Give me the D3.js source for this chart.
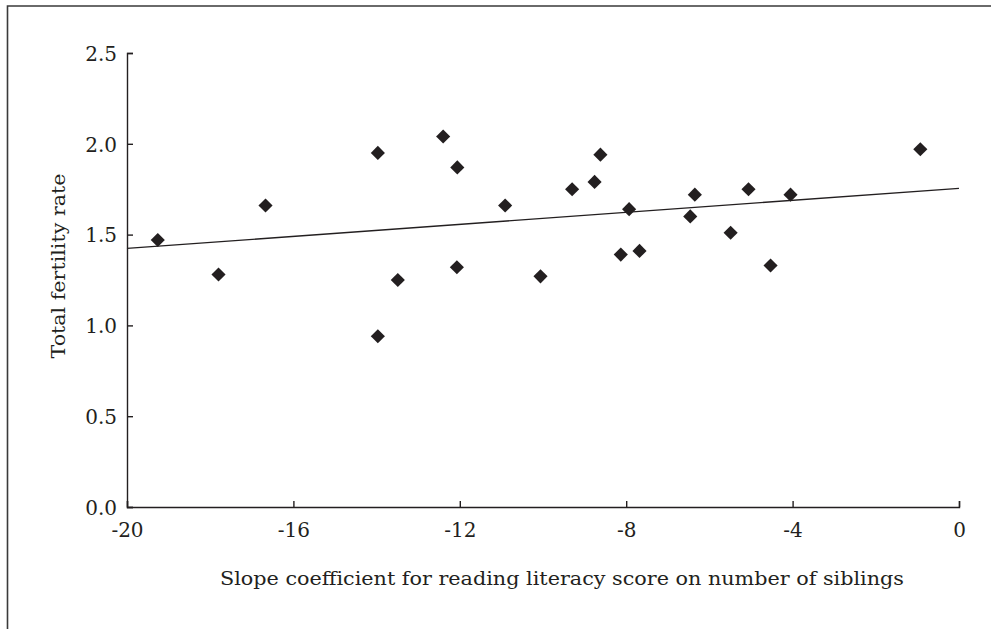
<!DOCTYPE html>
<html lang='en'>
<head>
    <meta charset='UTF-8'/>
    <title>Total fertility rate vs slope coefficient</title>
    <script src="https://cdn.jsdelivr.net/npm/d3@7"></script>
    <style>
        html, body {
            margin: 0;
            background: white;
        }
        text {
            font-family: "DejaVu Serif", "Liberation Serif", serif;
            fill: #231f20;
        }
    </style>
</head>
<body>
<div id="container"></div>
<script>
    // slope coefficient (x) and total fertility rate (y), one entry per country
    const slopes = [-19.26, -17.8, -16.67, -13.97, -13.49, -13.97, -12.40, -12.06, -12.07, -10.91, -10.06, -9.30,
        -8.76, -8.62, -7.93, -8.13, -7.68, -6.35, -6.46, -5.06, -5.49, -4.05, -4.53, -0.93]
    const fertility = [1.47, 1.28, 1.66, 1.95, 1.25, 0.94, 2.04, 1.87, 1.32, 1.66, 1.27, 1.75,
        1.79, 1.94, 1.64, 1.39, 1.41, 1.72, 1.60, 1.75, 1.51, 1.72, 1.33, 1.97]
    // end points of the fitted line
    const trendX = [-20, 0]
    const trendY = [1.424, 1.755]

    const xTicks = [-20, -16, -12, -8, -4, 0]
    const yTicks = [0, 0.5, 1.0, 1.5, 2.0, 2.5]

    const width = 991, height = 629
    const margin = {top: 53, right: 32, bottom: 122, left: 127}
    const ink = '#231f20'

    const svg = d3.select('#container')
        .append('svg')
        .attr('width', width)
        .attr('height', height)

    // frame round the figure, cut off at right and bottom
    svg.append('path')
        .attr('d', `M7.5,${height + 5}V6H${width + 5}`)
        .attr('fill', 'none')
        .attr('stroke', '#3a3a3a')
        .attr('stroke-width', 1.6)

    const x = d3.scaleLinear().domain([-20, 0]).range([margin.left, width - margin.right])
    const y = d3.scaleLinear().domain([0, 2.5]).range([height - margin.bottom, margin.top])

    const g = svg.append('g')

    const xAxis = g.append('g')
        .attr('transform', `translate(0,${y(0)})`)
        .call(d3.axisTop(x).tickValues(xTicks).tickSize(6).tickFormat(d3.format('d')))
    xAxis.selectAll('text').remove()
    xAxis.selectAll('.tick')
        .append('text')
        .attr('y', 30)
        .attr('text-anchor', 'middle')
        .attr('font-size', '20px')
        .text(d => d)

    const yAxis = g.append('g')
        .attr('transform', `translate(${x(-20)},0)`)
        .call(d3.axisRight(y).tickValues(yTicks).tickSize(6).tickFormat(d3.format('.1f')))
    yAxis.selectAll('text').remove()
    yAxis.selectAll('.tick')
        .append('text')
        .attr('x', -10)
        .attr('dy', '0.36em')
        .attr('text-anchor', 'end')
        .attr('font-size', '20px')
        .text(d3.format('.1f'))

    svg.selectAll('.domain, .tick line')
        .attr('stroke', ink)
        .attr('stroke-width', 1.4)

    // fitted line
    g.append('line')
        .attr('x1', x(trendX[0]))
        .attr('y1', y(trendY[0]))
        .attr('x2', x(trendX[1]))
        .attr('y2', y(trendY[1]))
        .attr('stroke', ink)
        .attr('stroke-width', 1.3)

    // diamonds
    g.selectAll('path.point')
        .data(d3.range(slopes.length))
        .join('path')
        .attr('class', 'point')
        .attr('d', d3.symbol(d3.symbolSquare, 100))
        .attr('transform', i => `translate(${x(slopes[i])},${y(fertility[i])}) rotate(45)`)
        .attr('fill', ink)

    svg.append('text')
        .attr('x', 562)
        .attr('y', 585)
        .attr('text-anchor', 'middle')
        .attr('font-size', '19px')
        .attr('textLength', 684)
        .attr('lengthAdjust', 'spacingAndGlyphs')
        .text('Slope coefficient for reading literacy score on number of siblings')

    svg.append('text')
        .attr('transform', 'translate(65,266) rotate(-90)')
        .attr('text-anchor', 'middle')
        .attr('font-size', '19px')
        .attr('textLength', 185)
        .attr('lengthAdjust', 'spacingAndGlyphs')
        .text('Total fertility rate')
</script>
</body>
</html>
